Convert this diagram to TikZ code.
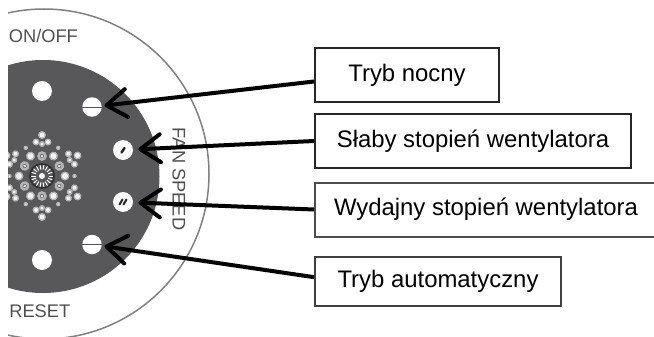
\documentclass[tikz,border=0pt]{standalone}
\usepackage{fontspec}
\setmainfont{Liberation Sans}
\usetikzlibrary{arrows.meta}
\definecolor{panelgray}{HTML}{58585A}
\definecolor{printgray}{HTML}{505050}
\tikzset{
	labelbox/.style={draw=black!85, line width=0.4mm, inner sep=0pt, minimum height=1.08cm, font=\fontsize{13.6}{16}\selectfont},
	knob/.style={circle, fill=white, inner sep=0pt, minimum size=0.39cm},
	printtext/.style={text=printgray, inner sep=0pt, font=\fontsize{10.4}{12}\selectfont},
	pointer/.style={line width=0.8mm, -{Straight Barb[length=4mm, width=5.6mm, round]}}
}
\def\flakedot(#1:#2:#3){\fill[white!55!panelgray] (#1, #2) circle (#3+0.03); \fill[white!92!panelgray] (#1, #2) circle (#3);}

\begin{document}
\begin{tikzpicture}
	%%%%% START %%%%%
	\useasboundingbox (0, 0) rectangle (13.08, 6.72);
	\clip (0, 0) rectangle (13.08, 6.72);

	\begin{scope}
		\clip (0.16, 0) rectangle (13.08, 6.72);
		\draw[line width=0.3mm, color=black!50] (0.88, 3.24) circle (3.3);
		\fill[panelgray] (0.86, 3.19) circle (2.33);

		% snowflake
		\foreach \a in {30,90,...,330} {
			\begin{scope}[shift={(0.84, 3.2)}, rotate=\a]
				\draw[line width=0.5mm, color=white!55!panelgray] (0.4, 0) circle (0.07);
				\fill[white!85!panelgray] (0.4, 0) circle (0.03);
				\flakedot(0.64:0:0.03);
				\flakedot(0.68:0.12:0.04);
				\flakedot(0.68:-0.12:0.04);
				\flakedot(0.82:0:0.05);
			\end{scope}
		}
		\foreach \a in {0,60,...,300} {
			\begin{scope}[shift={(0.84, 3.2)}, rotate=\a]
				\flakedot(0.46:0:0.06);
				\flakedot(0.65:0:0.015);
			\end{scope}
		}
		\draw[line width=0.4mm, color=black!80] (0.84, 3.2) circle (0.24);
		\foreach \a in {0,20,...,340} {
			\draw[line width=0.2mm, color=white] (0.84, 3.2) ++(\a:0.13) -- ++(\a:0.09);
		}
		\fill[white] (0.84, 3.2) circle (0.06);

		\fill[white] (0.84, 4.9) circle (0.2);
		\fill[white] (0.84, 1.52) circle (0.2);

		\node[printtext, anchor=west] (onoff) at (0.17, 6.0) {ON/OFF};
		\node[printtext, anchor=west] (reset) at (0.18, 0.5) {RESET};
	\end{scope}

	\node[knob] (knobnight) at (1.84, 4.58) {};
	\draw[line width=0.2mm, color=printgray] (knobnight.west) -- (knobnight.east);
	\node[knob, minimum size=0.4cm] (knoblow) at (2.46, 3.72) {};
	\draw[line width=0.5mm, line cap=round, color=black!85] (2.43, 3.67) -- (2.49, 3.76);
	\node[knob, minimum size=0.4cm] (knobhigh) at (2.46, 2.68) {};
	\draw[line width=0.4mm, line cap=round, color=black!85] (2.39, 2.63) -- (2.45, 2.73);
	\draw[line width=0.4mm, line cap=round, color=black!85] (2.47, 2.63) -- (2.53, 2.73);
	\node[knob] (knobauto) at (1.84, 1.83) {};
	\draw[line width=0.35mm, color=printgray] (knobauto.west) -- (knobauto.east);

	\node[printtext, rotate=-90] (fanspeed) at (3.58, 3.14) {FAN SPEED};

	\node[labelbox, minimum width=3.68cm] (boxnight) at (8.14, 5.22) {Tryb nocny};
	\node[labelbox, minimum width=6.32cm] (boxlow) at (9.46, 3.9) {Słaby stopień wentylatora};
	\node[labelbox, minimum width=6.84cm, draw=black!70] (boxhigh) at (9.72, 2.53) {Wydajny stopień wentylatora};
	\node[labelbox, minimum width=4.92cm, minimum height=0.98cm, draw=black!75] (boxauto) at (8.76, 1.09) {Tryb automatyczny};

	\draw[pointer, shorten >=0.05cm] (boxnight.184) -- (knobnight);
	\draw[pointer, shorten >=0.1cm] (boxlow.west) -- (knoblow);
	\draw[pointer, shorten >=0.1cm] (boxhigh.west) -- (knobhigh);
	\draw[pointer, shorten >=0.05cm] (boxauto.178) -- (knobauto);
	%%%%% END %%%%%
\end{tikzpicture}
\end{document}
